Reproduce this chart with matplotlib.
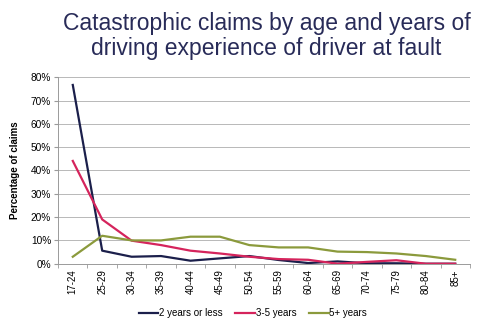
import numpy as np
import matplotlib.pyplot as plt
from matplotlib.ticker import PercentFormatter, FixedLocator

plt.rcParams['font.family'] = ['Liberation Sans', 'DejaVu Sans']

# grupos de edad
edades = ["17-24", "25-29", "30-34", "35-39", "40-44", "45-49", "50-54",
          "55-59", "60-64", "65-69", "70-74", "75-79", "80-84", "85+"]

# porcentaje de siniestros por experiencia de manejo
exp_2 = [76.7, 5.6, 3.0, 3.3, 1.3, 2.3, 3.3, 1.6, 0.3, 1.0, 0.2, 0.2, 0.0, 0.0]
exp_3_5 = [44.1, 19.0, 9.9, 8.0, 5.6, 4.4, 3.0, 2.0, 1.7, 0.0, 0.8, 1.5, 0.0, 0.0]
exp_5 = [3.0, 12.0, 10.0, 10.0, 11.6, 11.6, 8.0, 7.0, 7.0, 5.2, 5.0, 4.4, 3.3, 1.7]

series = [("2 years or less", exp_2, "#1b1f4b"),
          ("3-5 years", exp_3_5, "#d5245c"),
          ("5+ years", exp_5, "#8b9a3c")]

fig = plt.figure(figsize=(4.8, 3.33), dpi=100)
ax = fig.add_axes([0.121, 0.208, 0.858, 0.56])

x = np.arange(len(edades))
for nombre, vals, col in series:
    ax.plot(x, vals, color=col, lw=1.6, label=nombre)

ax.set_xlim(-0.5, len(edades) - 0.5)
ax.set_ylim(0, 80)
ax.set_yticks(np.arange(0, 81, 10))
ax.yaxis.set_major_formatter(PercentFormatter(decimals=0))
ax.set_xticks(x)
ax.set_xticklabels(edades, rotation=90, fontsize=7)
ax.xaxis.set_minor_locator(FixedLocator(np.arange(-0.5, len(edades), 1)))
ax.tick_params(axis='x', which='major', length=0, pad=4)
ax.tick_params(axis='x', which='minor', length=3, color='#9a9a9a')
ax.tick_params(axis='y', length=3, color='#9a9a9a', labelsize=7.3, pad=2)

ax.grid(axis='y', color='#b8b8b8', lw=0.7)
ax.set_axisbelow(True)
for s in ['top', 'right']:
    ax.spines[s].set_visible(False)
for s in ['left', 'bottom']:
    ax.spines[s].set_color('#9a9a9a')
    ax.spines[s].set_linewidth(0.7)

ax.set_ylabel("Percentage of claims", fontsize=7, fontweight='bold', labelpad=8)

fig.text(0.555, 0.965, "Catastrophic claims by age and years of\ndriving experience of driver at fault",
         ha='center', va='top', fontsize=16.5, color='#282b58', linespacing=1.15)

fig.legend(loc='center', bbox_to_anchor=(0.527, 0.06), ncol=3, frameon=False,
           fontsize=7, handlelength=2.0, handletextpad=0.1, columnspacing=1.3)

plt.savefig("out.png", dpi=100)
